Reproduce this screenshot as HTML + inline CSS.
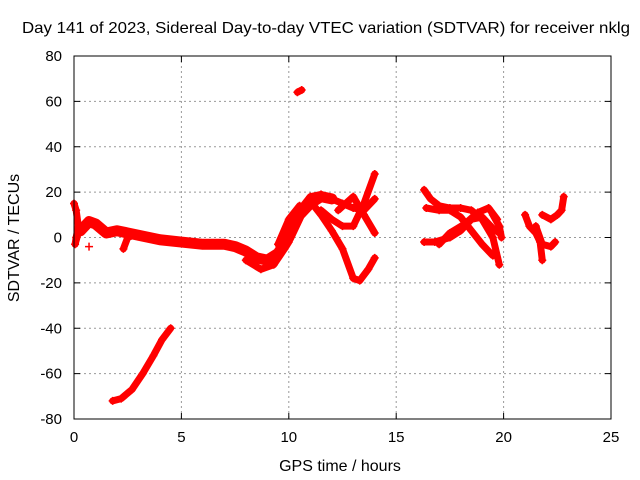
<!DOCTYPE html>
<html><head><meta charset="utf-8"><style>
body{margin:0;background:#fff}
svg{display:block;font-family:"Liberation Sans",sans-serif}
</style></head><body>
<svg id="chart" width="640" height="480" viewBox="0 0 640 480" xmlns="http://www.w3.org/2000/svg">
<rect width="640" height="480" fill="#fff"/>
<text x="326" y="33" font-size="16" text-anchor="middle" textLength="608" lengthAdjust="spacingAndGlyphs">Day 141 of 2023, Sidereal Day-to-day VTEC variation (SDTVAR) for receiver nklg</text>
<text x="340" y="471" font-size="16" text-anchor="middle">GPS time / hours</text>
<text transform="translate(19,238) rotate(-90)" font-size="16" text-anchor="middle">SDTVAR / TECUs</text>
<g id="grid"></g><g id="ticks"></g><g id="data"></g>
<rect x="74" y="56" width="537" height="363" fill="none" stroke="#000" stroke-width="1"/>
</svg>
<script>
const xTicks=[0,5,10,15,20,25];
const yTicks=[80,60,40,20,0,-20,-40,-60,-80];
const track1=[[0,15],[0.1,12],[0.2,5],[0.1,0],[0.05,-3],[0.2,2]];
const track2=[[0.3,3],[0.7,7],[1,6],[1.5,2],[2,3],[2.5,2],[3,1],[3.5,0],[4,-1],[5,-2],[6,-3],[7,-3],[7.5,-4],[8,-6],[8.5,-9],[9,-10],[9.5,-7],[10,0],[10.5,10],[11,15],[11.5,18],[12,17]];
const track3=[[2.3,-5],[2.5,0],[2.8,1]];
const track4=[[0.7,-4]];
const track5=[[1.8,-72],[2.2,-71],[2.7,-67],[3.2,-60],[3.7,-52],[4.1,-45],[4.5,-40]];
const track6=[[10.4,64],[10.6,65]];
const track7=[[8,-10],[8.7,-14],[9.3,-12],[9.8,-5],[10,-2]];
const track8=[[10,5],[10.5,12],[11,18],[11.5,19],[12,17],[12.5,15],[13,13],[13.5,12],[14,17]];
const track9=[[11,16],[11.5,10],[12,3],[12.5,-5],[13,-18],[13.3,-19],[13.7,-14],[14,-9]];
const track10=[[11.5,12],[12,8],[12.5,5],[13,5],[13.5,15],[14,28]];
const track11=[[12.3,12],[13,18],[13.5,10],[14,2]];
const track12=[[9.5,-3],[10,8],[10.5,14]];
const track13=[[16.3,21],[16.6,17],[17,14],[17.5,13],[18,13],[18.5,12],[19,8],[19.5,0],[19.8,-12]];
const track14=[[16.4,13],[17,12],[17.5,12],[18,9],[18.5,3],[19,-3],[19.5,-8]];
const track15=[[16.3,-2],[16.8,-2],[17.5,0],[18,3],[18.5,8],[19,9],[19.5,4],[19.8,2]];
const track16=[[17,-3],[17.5,2],[18.2,6],[18.8,11],[19.3,13],[19.7,8]];
const track17=[[19.5,10],[19.8,5],[19.9,0]];
const track18=[[21,10],[21.2,5],[21.5,2],[21.7,-2],[21.8,-10]];
const track19=[[21.5,5],[21.8,-3],[22.2,-4],[22.4,-2]];
const track20=[[21.8,10],[22.2,8],[22.5,10],[22.7,12],[22.8,18]];
const tracks=[track1,track2,track3,track4,track5,track6,track7,track8,track9,track10,track11,track12,track13,track14,track15,track16,track17,track18,track19,track20];

const X=t=>74+t*(537/25);
const Y=v=>237.5-v*(363/160);
const NS="http://www.w3.org/2000/svg";
function mk(tag,attrs,parent){const e=document.createElementNS(NS,tag);for(const k in attrs)e.setAttribute(k,attrs[k]);parent.appendChild(e);return e;}
const grid=document.getElementById('grid'),ticks=document.getElementById('ticks'),data=document.getElementById('data');
xTicks.forEach(t=>{
  const x=X(t);
  if(t>0&&t<25){const g=mk('line',{x1:x,x2:x,y1:56,y2:419,stroke:'#999','stroke-dasharray':'2,3'},grid);
  
  }
  mk('line',{x1:x,x2:x,y1:419,y2:413,stroke:'#000'},ticks);
  mk('line',{x1:x,x2:x,y1:56,y2:62,stroke:'#000'},ticks);
  const l=mk('text',{x:x,y:442,'font-size':15,'text-anchor':'middle'},ticks);l.textContent=t;
  
  
});
yTicks.forEach(v=>{
  const y=Y(v);
  if(v>-80&&v<80){const g=mk('line',{x1:74,x2:611,y1:y,y2:y,stroke:'#999','stroke-dasharray':'2,3'},grid);
  
  }
  mk('line',{x1:74,x2:80,y1:y,y2:y,stroke:'#000'},ticks);
  mk('line',{x1:605,x2:611,y1:y,y2:y,stroke:'#000'},ticks);
  const l=mk('text',{x:62,y:y+5,'font-size':15,'text-anchor':'end'},ticks);l.textContent=v;
  
  
});
tracks.forEach((tr,i)=>{
  const g=mk('g',{},data);
  
  
  if(tr.length>1){
    mk('polyline',{points:tr.map(p=>X(p[0])+','+Y(p[1])).join(' '),fill:'none',stroke:'#f00','stroke-width':(i===1?11:7),'stroke-linejoin':'round','stroke-linecap':'round'},g);
  }
  tr.forEach(p=>{
    const x=X(p[0]),y=Y(p[1]);
    mk('path',{d:`M${x-4},${y}H${x+4}M${x},${y-4}V${y+4}`,stroke:'#f00','stroke-width':1.5},g);
  });
});
</script>
</body></html>
